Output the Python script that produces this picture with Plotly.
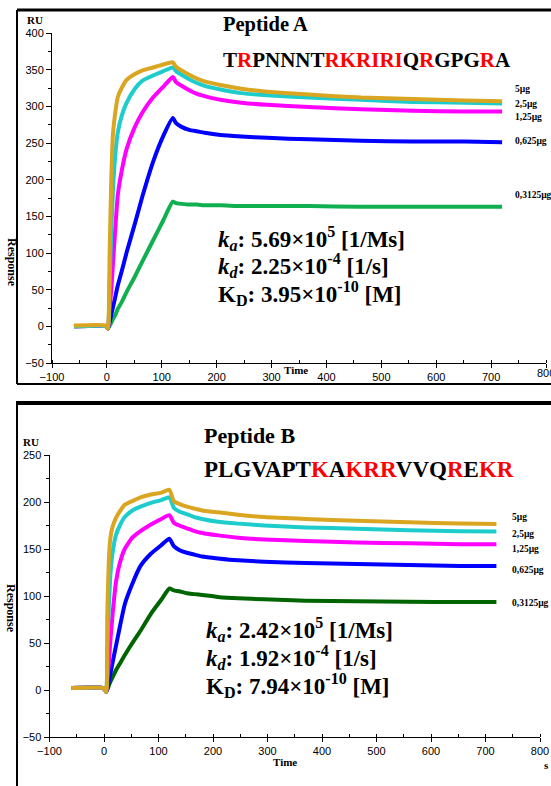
import plotly.graph_objects as go

W, H = 551, 786

# ---------------- data ----------------
t_a = [-60, -1, 2, 5, 8, 11, 15, 20, 27, 36, 51, 65, 84, 103, 120,
       126, 136, 150, 164, 178, 207, 245, 292, 368, 463, 557, 652, 720]
a_5 = [1, 1, -3, 100, 200, 262, 290, 313, 325, 336, 344, 349, 353, 357, 360,
       354, 349, 343, 338, 334, 329, 324, 320, 316, 312, 310, 308, 307]
a_25 = [0, 0, -3, 60, 130, 185, 231, 265, 287, 305, 324, 335, 342, 348, 353,
        348, 343, 337, 332, 328, 323, 318, 315, 312, 309, 306, 305, 304]
a_125 = [0, 0, -3, 25, 50, 85, 130, 180, 212, 242, 272, 292, 312, 327, 340,
         333, 328, 322, 317, 314, 309, 305, 302, 299, 296, 294, 293, 293]
a_0625 = [0, 0, -3, 6, 16, 26, 39, 56, 75, 101, 140, 178, 224, 260, 284,
          277, 272, 268, 266, 264, 261, 259, 257, 255, 253, 252, 252, 251]
a_03125 = [0, 0, -3, 1, 5, 10, 15, 24, 33, 47, 68, 89, 117, 145, 170,
           168, 167, 166, 166, 165, 165, 164, 164, 164, 163, 163, 163, 163]

t_b = [-60, -1, 4, 6, 9, 12, 16, 22, 29, 38, 52, 67, 86, 105, 120,
       128, 138, 152, 166, 180, 209, 246, 294, 370, 464, 559, 654, 720]
b_5 = [2, 2, -2, 80, 140, 163, 174, 183, 190, 197, 201, 205, 208, 210, 213,
       201, 198, 195, 193, 191, 189, 186.5, 184, 182, 180, 178.5, 177, 176.5]
b_25 = [2, 2, -2, 45, 90, 125, 147, 165, 175, 184, 191, 195, 199, 202, 205,
        194, 190, 187, 184, 182, 179, 177, 175, 173, 171.5, 170, 169, 168.5]
b_125 = [2, 2, -2, 10, 30, 55, 82, 115, 135, 150, 162, 169, 176, 182, 186,
         178, 175, 172, 169, 167, 164.5, 162, 160, 158.5, 157, 156, 155, 155]
b_0625 = [2, 2, -2, 2, 10, 18, 30, 47, 67, 91, 113, 132, 145, 154, 161,
          153, 149, 146, 144, 142, 140, 138, 136.5, 135, 134, 133, 132, 132]
b_03125 = [2, 2, -2, 0, 5, 9, 14, 21, 28, 37, 50, 63, 81, 96, 108,
           106, 105, 103, 102, 101, 99, 97.5, 96.5, 95, 94.5, 94, 93.5, 93.5]

dose_labels = ["5µg", "2,5µg", "1,25µg", "0,625µg", "0,3125µg"]
colors_a = ["#DAA520", "#1ECCCC", "#FF00FF", "#0000FF", "#10B050"]
colors_b = ["#DAA520", "#1ECCCC", "#FF00FF", "#0000FF", "#006400"]

kin_a = ["<b><i>k</i><sub><i>a</i></sub>: 5.69×10<sup>5</sup> [1/Ms]</b>",
         "<b><i>k</i><sub><i>d</i></sub>: 2.25×10<sup>-4</sup> [1/s]</b>",
         "<b>K<sub>D</sub>: 3.95×10<sup>-10</sup> [M]</b>"]
kin_b = ["<b><i>k</i><sub><i>a</i></sub>: 2.42×10<sup>5</sup> [1/Ms]</b>",
         "<b><i>k</i><sub><i>d</i></sub>: 1.92×10<sup>-4</sup> [1/s]</b>",
         "<b>K<sub>D</sub>: 7.94×10<sup>-10</sup> [M]</b>"]

seq_a = "TRPNNNTRKRIRIQRGPGRA"
red_a = [1, 7, 8, 9, 10, 11, 12, 14, 18]
seq_b = "PLGVAPTKAKRRVVQREKR"
red_b = [7, 9, 10, 11, 15, 17, 18]

x_ticks = [-100, 0, 100, 200, 300, 400, 500, 600, 700, 800]
y_ticks_a = [-50, 0, 50, 100, 150, 200, 250, 300, 350, 400]
y_ticks_b = [-50, 0, 50, 100, 150, 200, 250]


def px(x):
    return x / W


def py(y):
    return 1 - y / H


def colored(seq, reds):
    out = []
    for i, ch in enumerate(seq):
        if i in reds:
            out.append('<span style="color:#FF0000">' + ch + '</span>')
        else:
            out.append(ch)
    return "<b>" + "".join(out) + "</b>"


fig = go.Figure()
for ys, c in zip([a_5, a_25, a_125, a_0625, a_03125][::-1], colors_a[::-1]):
    fig.add_trace(go.Scatter(x=t_a, y=ys, mode="lines",
                             line=dict(color=c, width=4, shape="spline", smoothing=0.5),
                             xaxis="x", yaxis="y", hoverinfo="skip"))
for ys, c in zip([b_5, b_25, b_125, b_0625, b_03125][::-1], colors_b[::-1]):
    fig.add_trace(go.Scatter(x=t_b, y=ys, mode="lines",
                             line=dict(color=c, width=4, shape="spline", smoothing=0.5),
                             xaxis="x2", yaxis="y2", hoverinfo="skip"))

tickfont = dict(family="Liberation Sans", size=11, color="black")
common_x = dict(range=[-100, 800], tickvals=x_ticks, showgrid=False, zeroline=False,
                showline=True, linecolor="black", linewidth=1, ticks="outside",
                ticklen=4, tickcolor="black", tickfont=tickfont, automargin=False,
                minor=dict(dtick=50, ticks="inside", ticklen=3, tickcolor="black"))
common_y = dict(showgrid=False, zeroline=False, showline=True, linecolor="black",
                linewidth=1, ticks="outside", ticklen=5, tickcolor="black",
                tickfont=tickfont, automargin=False,
                minor=dict(dtick=25, ticks="outside", ticklen=3, tickcolor="black"))

fig.update_layout(
    template="none",
    width=W, height=H, margin=dict(l=0, r=0, t=0, b=0, pad=0), autosize=False,
    paper_bgcolor="white", plot_bgcolor="white", showlegend=False,
    xaxis=dict(domain=[px(52), px(546)], anchor="y", **common_x),
    yaxis=dict(domain=[py(363), py(33)], anchor="x", range=[-50, 400],
               tickvals=y_ticks_a, **common_y),
    xaxis2=dict(domain=[px(49.5), px(540)], anchor="y2", **common_x),
    yaxis2=dict(domain=[py(737), py(455)], anchor="x2", range=[-50, 250],
                tickvals=y_ticks_b, **common_y),
)

# frames
frame_lines = [
    (17, 10, 551, 10, 3),    # top border of panel A
    (17, 10, 17, 384, 2),    # left border of panel A
    (17, 384, 551, 384, 2),  # bottom border of panel A
    (16, 403, 551, 403, 4),  # thick top border of panel B
    (17, 403, 17, 786, 2),   # left border of panel B
]
for x0, y0, x1, y1, w in frame_lines:
    fig.add_shape(type="line", xref="paper", yref="paper", x0=px(x0), x1=px(x1),
                  y0=py(y0), y1=py(y1), line=dict(color="black", width=w))

serif = "Liberation Serif"


def ann(x, y, text, size, xanchor="left", yanchor="middle", angle=0, family=serif):
    fig.add_annotation(xref="paper", yref="paper", x=px(x), y=py(y), text=text,
                       showarrow=False, xanchor=xanchor, yanchor=yanchor,
                       textangle=angle, font=dict(family=family, size=size, color="black"))


# Panel A texts
ann(221, 24, "<b>Peptide A</b>", 20.5)
ann(221, 60, colored(seq_a, red_a), 21)
for txt, yy in zip(kin_a, [238, 265, 293]):
    ann(216, yy, txt, 23)
for lab, yy in zip(dose_labels, [89, 104, 117, 141, 195]):
    ann(513, yy, "<b>" + lab + "</b>", 9.5)
ann(35, 20, "<b>RU</b>", 11, xanchor="center")
ann(12, 262, "<b>Response</b>", 12, xanchor="center", angle=90)
ann(296, 370, "<b>Time</b>", 11, xanchor="center")
ann(546, 373, "800", 11, xanchor="center", family="Liberation Sans")

# Panel B texts
ann(202, 436, "<b>Peptide B</b>", 22)
ann(202, 470, colored(seq_b, red_b), 23)
for txt, yy in zip(kin_b, [629, 657, 685]):
    ann(204, yy, txt, 23)
for lab, yy in zip(dose_labels, [517, 534, 549, 570, 603]):
    ann(510, yy, "<b>" + lab + "</b>", 9.5)
ann(31, 442, "<b>RU</b>", 11, xanchor="center")
ann(11, 608, "<b>Response</b>", 12, xanchor="center", angle=90)
ann(285, 762, "<b>Time</b>", 11, xanchor="center")
ann(546, 765, "<b>s</b>", 11, xanchor="center")

fig.write_html("out.html", config={"displayModeBar": False},
               post_script="document.body.style.margin='0px';")
